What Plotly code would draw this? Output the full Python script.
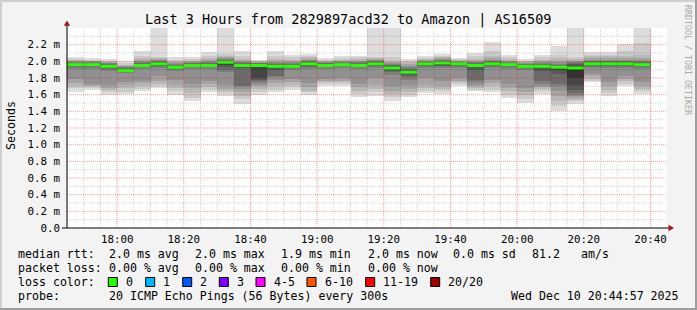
import plotly.graph_objects as go
import pandas as pd

# ---------------- data ----------------
title_text = "Last 3 Hours from 2829897acd32 to Amazon | AS16509"
x_range = ["2025-12-10 17:44:57", "2025-12-10 20:44:57"]
first_step = "2025-12-10 17:45:00"
step_seconds = 300

# 20 sorted ping round-trip times (ms) for every 5-minute step
pings = [
    [1.63,1.68,1.70,1.74,1.79,1.91,1.93,1.94,1.95,1.955,1.965,1.97,1.98,1.985,1.99,2.00,2.01,2.02,2.03,2.05],
    [1.66,1.68,1.70,1.71,1.73,1.91,1.93,1.94,1.95,1.955,1.965,1.97,1.98,1.985,1.99,2.00,2.00,2.01,2.02,2.04],
    [1.60,1.63,1.66,1.68,1.72,1.89,1.91,1.92,1.93,1.935,1.945,1.95,1.96,1.97,1.975,1.98,1.99,2.00,2.01,2.03],
    [1.61,1.63,1.68,1.72,1.75,1.86,1.87,1.88,1.885,1.89,1.895,1.90,1.91,1.92,1.93,1.94,1.95,1.96,1.98,2.00],
    [1.64,1.67,1.70,1.74,1.77,1.91,1.93,1.94,1.945,1.95,1.955,1.96,1.97,1.98,1.99,2.00,2.02,2.04,2.07,2.13],
    [1.68,1.70,1.73,1.77,1.82,1.92,1.94,1.95,1.96,1.965,1.975,1.98,1.99,2.00,2.01,2.02,2.03,2.04,2.05,2.45],
    [1.60,1.64,1.68,1.72,1.78,1.89,1.91,1.92,1.925,1.93,1.935,1.94,1.95,1.96,1.97,1.98,1.99,2.00,2.02,2.05],
    [1.52,1.56,1.62,1.68,1.73,1.91,1.93,1.94,1.945,1.95,1.955,1.96,1.97,1.975,1.98,1.99,2.00,2.01,2.03,2.05],
    [1.63,1.66,1.69,1.73,1.76,1.91,1.93,1.94,1.945,1.95,1.955,1.96,1.97,1.98,1.99,2.00,2.02,2.04,2.07,2.11],
    [1.58,1.62,1.65,1.67,1.72,1.87,1.90,1.93,1.96,1.985,1.995,2.00,2.01,2.02,2.03,2.04,2.05,2.07,2.09,2.45],
    [1.49,1.55,1.59,1.63,1.67,1.70,1.71,1.92,1.93,1.94,1.96,1.965,1.97,1.98,1.99,2.00,2.01,2.03,2.07,2.12],
    [1.60,1.63,1.67,1.70,1.72,1.74,1.76,1.78,1.80,1.93,1.96,1.965,1.97,1.975,1.98,1.985,1.99,2.00,2.01,2.02],
    [1.63,1.66,1.70,1.74,1.78,1.81,1.83,1.90,1.92,1.935,1.945,1.95,1.96,1.97,1.98,1.99,2.00,2.03,2.07,2.12],
    [1.66,1.69,1.72,1.75,1.79,1.90,1.92,1.93,1.935,1.94,1.945,1.95,1.96,1.97,1.98,1.99,2.00,2.02,2.05,2.08],
    [1.60,1.63,1.65,1.69,1.74,1.91,1.93,1.95,1.96,1.965,1.975,1.98,1.99,2.00,2.01,2.02,2.03,2.05,2.07,2.09],
    [1.71,1.73,1.75,1.77,1.79,1.91,1.93,1.94,1.945,1.95,1.955,1.96,1.97,1.975,1.98,1.99,2.00,2.01,2.02,2.04],
    [1.71,1.73,1.75,1.77,1.80,1.92,1.94,1.95,1.955,1.96,1.965,1.97,1.98,1.985,1.99,2.00,2.01,2.02,2.04,2.06],
    [1.57,1.61,1.65,1.69,1.73,1.91,1.93,1.94,1.945,1.95,1.955,1.96,1.97,1.98,1.99,2.00,2.01,2.03,2.05,2.07],
    [1.59,1.63,1.67,1.72,1.80,1.92,1.94,1.95,1.96,1.965,1.975,1.98,1.99,2.00,2.01,2.02,2.03,2.04,2.05,2.45],
    [1.53,1.57,1.61,1.65,1.70,1.84,1.87,1.89,1.91,1.915,1.925,1.94,1.95,1.96,1.97,1.98,1.99,2.00,2.05,2.45],
    [1.57,1.60,1.63,1.67,1.72,1.78,1.81,1.84,1.86,1.865,1.875,1.88,1.90,1.91,1.93,1.95,1.97,1.99,2.01,2.03],
    [1.62,1.65,1.68,1.72,1.80,1.92,1.94,1.95,1.96,1.965,1.975,1.98,1.99,1.995,2.00,2.01,2.02,2.03,2.04,2.06],
    [1.61,1.64,1.67,1.71,1.76,1.92,1.94,1.95,1.96,1.97,1.98,1.99,2.00,2.01,2.02,2.03,2.04,2.05,2.07,2.09],
    [1.71,1.73,1.75,1.77,1.80,1.92,1.94,1.95,1.96,1.965,1.975,1.98,1.985,1.99,1.995,2.00,2.01,2.02,2.03,2.04],
    [1.64,1.66,1.68,1.70,1.72,1.75,1.78,1.90,1.93,1.945,1.955,1.96,1.97,1.98,1.99,2.00,2.01,2.03,2.06,2.10],
    [1.63,1.66,1.70,1.74,1.78,1.92,1.94,1.95,1.96,1.965,1.975,1.98,1.99,2.00,2.01,2.02,2.04,2.07,2.12,2.23],
    [1.56,1.60,1.64,1.68,1.73,1.91,1.93,1.94,1.945,1.95,1.955,1.96,1.97,1.98,1.99,2.00,2.01,2.03,2.05,2.08],
    [1.50,1.55,1.60,1.63,1.68,1.90,1.92,1.93,1.935,1.94,1.945,1.95,1.96,1.965,1.97,1.98,1.99,2.00,2.01,2.03],
    [1.61,1.64,1.67,1.69,1.71,1.73,1.76,1.88,1.92,1.935,1.945,1.95,1.96,1.97,1.98,1.99,2.00,2.02,2.05,2.08],
    [1.41,1.47,1.53,1.59,1.65,1.70,1.73,1.85,1.90,1.925,1.935,1.94,1.95,1.96,1.97,1.99,2.01,2.04,2.08,2.19],
    [1.49,1.52,1.54,1.56,1.58,1.60,1.62,1.66,1.72,1.80,1.92,1.95,1.97,1.98,1.99,2.00,2.01,2.03,2.05,2.45],
    [1.75,1.77,1.79,1.82,1.85,1.92,1.94,1.95,1.96,1.965,1.975,1.98,1.99,2.00,2.01,2.02,2.04,2.06,2.08,2.11],
    [1.59,1.62,1.66,1.70,1.75,1.92,1.94,1.95,1.96,1.965,1.975,1.98,1.99,2.00,2.01,2.02,2.04,2.06,2.08,2.11],
    [1.71,1.73,1.76,1.79,1.82,1.92,1.94,1.95,1.96,1.965,1.975,1.98,1.99,2.00,2.01,2.02,2.04,2.07,2.12,2.21],
    [1.61,1.64,1.67,1.71,1.75,1.91,1.93,1.94,1.95,1.955,1.965,1.97,1.98,1.99,2.00,2.02,2.04,2.08,2.22,2.45],
]

median_rtt = [1.96,1.96,1.94,1.89,1.95,1.97,1.93,1.95,1.95,1.99,1.95,1.95,1.94,1.94,1.97,1.95,1.96,1.95,
              1.97,1.92,1.87,1.97,1.98,1.97,1.95,1.97,1.96,1.94,1.94,1.93,1.92,1.97,1.97,1.97,1.96]

y_tick_vals = [0.0, 0.2, 0.4, 0.6, 0.8, 1.0, 1.2, 1.4, 1.6, 1.8, 2.0, 2.2]
y_tick_text = ["0.0", "0.2 m", "0.4 m", "0.6 m", "0.8 m", "1.0 m", "1.2 m", "1.4 m",
               "1.6 m", "1.8 m", "2.0 m", "2.2 m"]
x_tick_vals = ["2025-12-10 18:00", "2025-12-10 18:20", "2025-12-10 18:40", "2025-12-10 19:00",
               "2025-12-10 19:20", "2025-12-10 19:40", "2025-12-10 20:00", "2025-12-10 20:20",
               "2025-12-10 20:40"]
x_tick_text = ["18:00", "18:20", "18:40", "19:00", "19:20", "19:40", "20:00", "20:20", "20:40"]

legend_rtt = ["median rtt:", "2.0 ms avg", "2.0 ms max", "1.9 ms min", "2.0 ms now", "0.0 ms sd", "81.2", "am/s"]
legend_loss = ["packet loss:", "0.00 % avg", "0.00 % max", "0.00 % min", "0.00 % now"]
loss_labels = ["0", "1", "2", "3", "4-5", "6-10", "11-19", "20/20"]
loss_colors = ["#26ff00", "#00b8ff", "#0059ff", "#7e00ff", "#ff00ff", "#ff5500", "#ff0000", "#a10000"]
probe_text = ["probe:", "20 ICMP Echo Pings (56 Bytes) every 300s", "Wed Dec 10 20:44:57 2025"]

# ---------------- geometry helpers ----------------
W, H = 697, 310
L, R, T, B = 67, 30, 28, 82
PW, PH = W - L - R, H - T - B
Y_MAX = 2.4
MONO = "DejaVu Sans Mono"


def px(x):
    return (x - L) / PW


def py(y):
    return (H - B - y) / PH


n = len(pings)
starts = [pd.Timestamp(first_step) + pd.Timedelta(seconds=step_seconds * i) for i in range(n)]
ends = [s + pd.Timedelta(seconds=step_seconds) for s in starts]
centers = [s + pd.Timedelta(seconds=step_seconds / 2) for s in starts]

fig = go.Figure()

# smoke: band k spans ping k .. ping (19-k), darker towards the middle
half = len(pings[0]) // 2
for k in range(half):
    level = int(190 / half * (half - (k + 1))) + 50
    col = "#%02x%02x%02x" % (level, level, level)
    fig.add_trace(go.Bar(
        x=centers,
        base=[p[k] for p in pings],
        y=[p[len(p) - 1 - k] - p[k] for p in pings],
        width=[step_seconds * 1000] * n,
        marker=dict(color=col, line=dict(width=0)),
        hoverinfo="skip", showlegend=False,
    ))

# median line (green = 0 loss)
mx, my = [], []
for s, e, m in zip(starts, ends, median_rtt):
    mx += [s, e, None]
    my += [m, m, None]
fig.add_trace(go.Scatter(x=mx, y=my, mode="lines", line=dict(color=loss_colors[0], width=3),
                         hoverinfo="skip", showlegend=False))

shapes = []
# grid drawn above the smoke
major_red = "rgba(255,0,0,0.38)"
minor_grey = "rgba(0,0,0,0.16)"
t = pd.Timestamp(first_step)
t_end = pd.Timestamp(x_range[1])
while t <= t_end:
    is_major = (t.minute % 20 == 0)
    shapes.append(dict(type="line", xref="x", yref="y", x0=t, x1=t, y0=0, y1=Y_MAX,
                       line=dict(color=major_red if is_major else minor_grey, width=1, dash="1px,1px"),
                       layer="above"))
    t += pd.Timedelta(minutes=5)
for i in range(1, 24):
    v = i / 10
    is_major = (i % 2 == 0)
    shapes.append(dict(type="line", xref="paper", yref="y", x0=0, x1=1, y0=v, y1=v,
                       line=dict(color=major_red if is_major else minor_grey, width=1, dash="1px,1px"),
                       layer="above"))

# axes with arrows
shapes.append(dict(type="line", xref="paper", yref="paper", x0=px(67), x1=px(67), y0=py(228), y1=py(24),
                   line=dict(color="#000000", width=1), layer="above"))
shapes.append(dict(type="line", xref="paper", yref="paper", x0=px(62), x1=px(670), y0=py(228), y1=py(228),
                   line=dict(color="#000000", width=1), layer="above"))
shapes.append(dict(type="path", xref="paper", yref="paper",
                   path=f"M {px(67)},{py(20.5)} L {px(63.8)},{py(25.8)} L {px(70.2)},{py(25.8)} Z",
                   fillcolor="#a01818", line=dict(width=0), layer="above"))
shapes.append(dict(type="path", xref="paper", yref="paper",
                   path=f"M {px(674)},{py(228)} L {px(668.5)},{py(224.8)} L {px(668.5)},{py(231.2)} Z",
                   fillcolor="#a01818", line=dict(width=0), layer="above"))

# image frame (light top/left, dark bottom/right)
shapes.append(dict(type="rect", xref="paper", yref="paper", x0=px(0), x1=px(W), y0=py(0), y1=py(2),
                   fillcolor="#cfcfcf", line=dict(width=0)))
shapes.append(dict(type="rect", xref="paper", yref="paper", x0=px(0), x1=px(2), y0=py(0), y1=py(H),
                   fillcolor="#cfcfcf", line=dict(width=0)))
shapes.append(dict(type="rect", xref="paper", yref="paper", x0=px(0), x1=px(W), y0=py(H - 2), y1=py(H),
                   fillcolor="#9e9e9e", line=dict(width=0)))
shapes.append(dict(type="rect", xref="paper", yref="paper", x0=px(W - 2), x1=px(W), y0=py(0), y1=py(H),
                   fillcolor="#9e9e9e", line=dict(width=0)))

annotations = []


def text(x, y, s, size=11.6, color="#000000", anchor="left", angle=0, family=MONO):
    annotations.append(dict(xref="paper", yref="paper", x=px(x), y=py(y), text=s, showarrow=False,
                            xanchor=anchor, yanchor="middle", textangle=angle,
                            font=dict(family=family, size=size, color=color)))


text(347.5, 19, title_text, size=13.5, anchor="center")
text(11, 126, "Seconds", size=11.6, anchor="center", angle=-90)
text(688, 60, "RRDTOOL / TOBI OETIKER", size=8.3, color="#a8a8a8", anchor="center", angle=90)

rtt_x = [16, 107.3, 193.3, 279.3, 365.7, 451, 530, 579.3]
for xx, s in zip(rtt_x, legend_rtt):
    text(xx, 254.3, s)
loss_x = [16, 107.3, 193.3, 279.3, 365.7]
for xx, s in zip(loss_x, legend_loss):
    text(xx, 268.3, s)
text(16, 282.3, "loss color:")
box_x = [108.3, 145.7, 182.7, 219.3, 256, 307, 365.7, 430.7]
for bx, lab, colr in zip(box_x, loss_labels, loss_colors):
    shapes.append(dict(type="rect", xref="paper", yref="paper", x0=px(bx), x1=px(bx + 9),
                       y0=py(277.5), y1=py(286.5), fillcolor=colr, line=dict(color="#000000", width=1)))
    text(bx + 15.5, 282.3, lab)
text(16, 296, probe_text[0])
text(107.3, 296, probe_text[1])
text(681, 296, probe_text[2], anchor="right")

fig.update_layout(
    width=W, height=H,
    margin=dict(l=L, r=R, t=T, b=B, pad=0),
    paper_bgcolor="#f3f3f3", plot_bgcolor="#ffffff",
    barmode="overlay", bargap=0,
    showlegend=False,
    shapes=shapes, annotations=annotations,
    xaxis=dict(type="date", range=x_range, showgrid=False, zeroline=False, showline=False,
               tickvals=x_tick_vals, ticktext=x_tick_text, ticks="", ticklabelstandoff=3,
               tickfont=dict(family=MONO, size=10.8, color="#000000"), fixedrange=True),
    yaxis=dict(range=[0, Y_MAX], showgrid=False, zeroline=False, showline=False,
               tickvals=y_tick_vals, ticktext=y_tick_text, ticks="", ticklabelstandoff=6,
               tickfont=dict(family=MONO, size=10.8, color="#000000"), fixedrange=True),
)

fig.write_html("out.html")
